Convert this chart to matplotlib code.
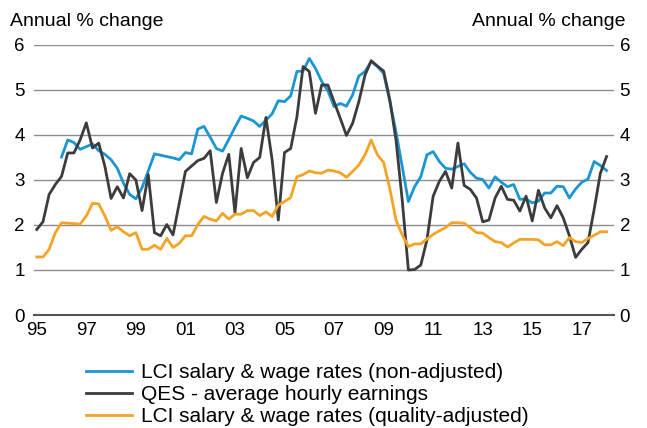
import numpy as np
import matplotlib.pyplot as plt

plt.rcParams['font.family'] = ['Liberation Sans', 'DejaVu Sans']

# quarterly series, annual % change
QES_START = 1995.0
qes_hourly = [
    1.90, 2.07, 2.68, 2.90,
    3.08, 3.60, 3.60, 3.89,
    4.27, 3.71, 3.82, 3.30,
    2.59, 2.85, 2.60, 3.14,
    3.00, 2.32, 3.12, 1.83,
    1.76, 2.01, 1.78, 2.48,
    3.19, 3.31, 3.43, 3.48,
    3.65, 2.50, 3.15, 3.57,
    2.27, 3.70, 3.05, 3.39,
    3.50, 4.39, 3.45, 2.11,
    3.61, 3.70, 4.40, 5.52,
    5.41, 4.48, 5.11, 5.11,
    4.74, 4.37, 3.99, 4.26,
    4.74, 5.33, 5.65, 5.53,
    5.42, 4.78, 3.89, 2.56,
    1.00, 1.01, 1.11, 1.67,
    2.64, 2.97, 3.19, 2.82,
    3.82, 2.88, 2.79, 2.60,
    2.07, 2.11, 2.60, 2.86,
    2.57, 2.55, 2.31, 2.64,
    2.09, 2.77, 2.38, 2.16,
    2.43, 2.16, 1.76, 1.28,
    1.46, 1.61, 2.35, 3.15,
    3.52,
]

LCI_NA_START = 1996.0
lci_non_adj = [
    3.51, 3.89, 3.83, 3.68,
    3.74, 3.80, 3.65, 3.57,
    3.45, 3.26, 2.93, 2.68,
    2.58, 2.83, 3.20, 3.58,
    3.55, 3.52, 3.49, 3.45,
    3.61, 3.58, 4.13, 4.19,
    3.95, 3.70, 3.64, 3.90,
    4.17, 4.42, 4.37, 4.31,
    4.19, 4.33, 4.47, 4.76,
    4.74, 4.87, 5.41, 5.42,
    5.70, 5.48, 5.19, 4.98,
    4.63, 4.70, 4.64, 4.89,
    5.31, 5.41, 5.63, 5.52,
    5.37, 4.75, 4.07, 3.30,
    2.52, 2.85, 3.07, 3.56,
    3.63, 3.41, 3.26, 3.24,
    3.30, 3.36, 3.17, 3.04,
    3.01, 2.82, 3.07, 2.95,
    2.85, 2.90, 2.57, 2.58,
    2.49, 2.53, 2.71, 2.71,
    2.86, 2.85, 2.60, 2.80,
    2.95, 3.02, 3.41, 3.32,
    3.21,
]

LCI_QA_START = 1995.0
lci_qual_adj = [
    1.29, 1.29, 1.46, 1.83,
    2.05, 2.04, 2.03, 2.02,
    2.20, 2.48, 2.47, 2.20,
    1.88, 1.96, 1.85, 1.76,
    1.83, 1.46, 1.46, 1.55,
    1.46, 1.70, 1.50, 1.59,
    1.76, 1.76, 2.01, 2.19,
    2.13, 2.09, 2.26, 2.13,
    2.24, 2.24, 2.32, 2.32,
    2.21, 2.29, 2.19, 2.44,
    2.52, 2.61, 3.07, 3.12,
    3.20, 3.16, 3.15, 3.22,
    3.20, 3.16, 3.06, 3.19,
    3.33, 3.56, 3.89, 3.56,
    3.39, 2.81, 2.11, 1.78,
    1.52, 1.58, 1.58, 1.69,
    1.79, 1.87, 1.94, 2.05,
    2.05, 2.04, 1.94, 1.83,
    1.82, 1.72, 1.63, 1.61,
    1.51, 1.60, 1.68, 1.68,
    1.68, 1.67, 1.56, 1.56,
    1.63, 1.54, 1.72, 1.63,
    1.61, 1.70, 1.77, 1.85,
    1.85,
]

year_ticks = list(range(1995, 2018, 2))
year_labels = ['%02d' % (y % 100) for y in year_ticks]
y_ticks = [0, 1, 2, 3, 4, 5, 6]


def quarters(start, values):
    return start + 0.25 * np.arange(len(values))


fig = plt.figure(figsize=(6.47, 4.28), dpi=100)
ax = fig.add_axes([0.053, 0.264, 0.896, 0.631])

ax.plot(quarters(LCI_NA_START, lci_non_adj), lci_non_adj, color='#1a96d4',
        lw=2.0, label='LCI salary & wage rates (non-adjusted)')
ax.plot(quarters(QES_START, qes_hourly), qes_hourly, color='#3c3c3c',
        lw=2.0, label='QES - average hourly earnings')
ax.plot(quarters(LCI_QA_START, lci_qual_adj), lci_qual_adj, color='#f5a325',
        lw=2.0, label='LCI salary & wage rates (quality-adjusted)')

ax.set_xlim(1994.9, 2018.3)
ax.set_ylim(0, 6)
ax.set_xticks(year_ticks)
ax.set_xticklabels(year_labels)
ax.set_yticks(y_ticks)
ax.grid(axis='y', color='#8c8c8c', lw=1.0)
ax.set_axisbelow(True)
for side in ['left', 'right', 'top']:
    ax.spines[side].set_visible(False)
ax.spines['bottom'].set_color('#555555')
ax.spines['bottom'].set_linewidth(1.5)
ax.tick_params(axis='both', length=0, labelsize=13.5, colors='black')
ax.tick_params(axis='x', pad=5)
ax.tick_params(axis='y', pad=7)

# mirror the value axis on the right
ax2 = ax.twinx()
ax2.set_ylim(0, 6)
ax2.set_yticks(y_ticks)
for side in ['left', 'right', 'top', 'bottom']:
    ax2.spines[side].set_visible(False)
ax2.tick_params(axis='y', length=0, labelsize=13.5, pad=4)

fig.text(0.015, 0.950, 'Annual % change', fontsize=14, va='center', ha='left')
fig.text(0.967, 0.950, 'Annual % change', fontsize=14, va='center', ha='right')

fig.legend(loc='upper left', bbox_to_anchor=(86 / 647, 1 - 363 / 428),
           frameon=False, fontsize=15, handlelength=2.2, handletextpad=0.45,
           labelspacing=0.15, borderpad=0, borderaxespad=0)

fig.savefig('out.png', dpi=100)
